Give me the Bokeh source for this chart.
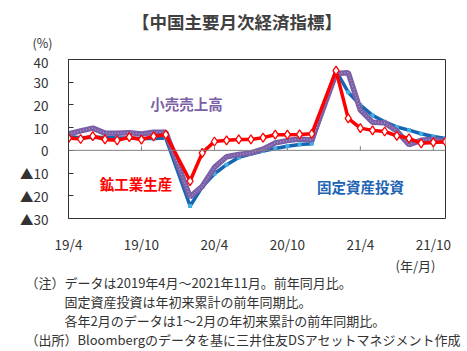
from bokeh.plotting import figure
from bokeh.layouts import column
from bokeh.models import Label, Span, FixedTicker, Range1d, Title
from bokeh.embed import file_html
from bokeh.resources import INLINE

# ---- data ----
months = ["2019-04", "2019-05", "2019-06", "2019-07", "2019-08", "2019-09", "2019-10", "2019-11", "2019-12",
          "2020-02", "2020-03", "2020-04", "2020-05", "2020-06", "2020-07", "2020-08", "2020-09", "2020-10",
          "2020-11", "2020-12",
          "2021-02", "2021-03", "2021-04", "2021-05", "2021-06", "2021-07", "2021-08", "2021-09", "2021-10",
          "2021-11"]
industrial = [5.4, 5.0, 6.3, 4.8, 4.4, 5.8, 4.7, 6.2, 6.9,
              -13.5, -1.1, 3.9, 4.4, 4.8, 4.8, 5.6, 6.9, 6.9, 7.0, 7.3,
              35.1, 14.1, 9.8, 8.8, 8.3, 6.4, 5.3, 3.1, 3.5, 3.8]
retail = [7.2, 8.6, 9.8, 7.6, 7.5, 7.8, 7.2, 8.0, 8.0,
          -20.5, -15.8, -7.5, -2.8, -1.8, -1.1, 0.5, 3.3, 4.3, 5.0, 4.6,
          33.8, 34.2, 17.7, 12.4, 12.1, 8.5, 2.5, 4.4, 4.9, 3.9]
fixed_inv = [6.1, 5.6, 5.8, 5.7, 5.5, 5.4, 5.2, 5.2, 5.4,
             -24.5, -16.1, -10.3, -6.3, -3.1, -1.6, -0.3, 0.8, 1.8, 2.6, 2.9,
             35.0, 25.6, 19.9, 15.4, 12.6, 10.3, 8.9, 7.3, 6.1, 5.2]
tick_months = ["2019-04", "2019-10", "2020-04", "2020-10", "2021-04", "2021-10"]
tick_labels = ["19/4", "19/10", "20/4", "20/10", "21/4", "21/10"]
y_ticks = [40, 30, 20, 10, 0, -10, -20, -30]
y_tick_labels = ["40", "30", "20", "10", "0", "▲10", "▲20", "▲30"]
first_month = "2019-04"
last_month = "2021-11"

title_text = "【中国主要月次経済指標】"
unit_text = "(%)"
notes = ("（注）データは2019年4月～2021年11月。前年同月比。\n"
         "　　　固定資産投資は年初来累計の前年同期比。\n"
         "　　　各年2月のデータは1～2月の年初来累計の前年同期比。\n"
         "（出所）Bloombergのデータを基に三井住友DSアセットマネジメント作成")


def midx(s):
    y, m = s.split("-")
    y0, m0 = first_month.split("-")
    return (int(y) - int(y0)) * 12 + int(m) - int(m0)


xs = [midx(m) for m in months]
tick_x = [midx(m) for m in tick_months]

FONT = "Noto Sans CJK JP"
TXT = "#333333"
W = 467
HEAD_H = 51
LEFT, RIGHT = 68, 22
HEAD_FRAME = 31

# ---- header strip (title in frame, unit as a below title) ----
head = figure(width=W, height=HEAD_H, output_backend="svg", toolbar_location=None,
              x_axis_type=None, y_axis_type=None,
              x_range=Range1d(LEFT, W - RIGHT), y_range=Range1d(0, HEAD_FRAME),
              min_border_left=LEFT, min_border_right=RIGHT, min_border_top=0, min_border_bottom=0)
head.grid.visible = False
head.outline_line_color = None
head.border_fill_color = "white"
head.title.text = ""
head.add_layout(Label(x=236.5, y=HEAD_FRAME - 21.5, text=title_text, text_font=FONT,
                      text_font_size="17.5px", text_font_style="bold", text_color="#404040",
                      text_align="center", text_baseline="middle"))
head.add_layout(Title(text=unit_text, align="left", offset=32 - LEFT, text_font=FONT,
                      text_font_size="12.5px", text_font_style="normal", text_color=TXT,
                      standoff=0), "below")

# ---- main chart ----
p = figure(width=W, height=351 - HEAD_H, output_backend="svg", toolbar_location=None,
           x_range=Range1d(midx(first_month), midx(last_month)),
           y_range=Range1d(min(y_ticks), max(y_ticks)),
           min_border_left=LEFT, min_border_right=RIGHT, min_border_top=59 - HEAD_H, min_border_bottom=133)
p.grid.visible = False
p.outline_line_color = "#333333"
p.outline_line_width = 1
p.background_fill_color = "white"
p.border_fill_color = "white"

# axes
p.xaxis.ticker = FixedTicker(ticks=tick_x)
p.xaxis.major_label_overrides = {t: l for t, l in zip(tick_x, tick_labels)}
p.xaxis.axis_line_color = None
p.xaxis.major_tick_line_color = None
p.xaxis.major_tick_out = 0
p.xaxis.major_tick_in = 0
p.xaxis.minor_tick_line_color = None
p.xaxis.major_label_standoff = 15
p.xaxis.major_label_text_font = FONT
p.xaxis.major_label_text_font_size = "13.5px"
p.xaxis.major_label_text_color = TXT

p.yaxis.ticker = FixedTicker(ticks=y_ticks)
p.yaxis.major_label_overrides = {t: l for t, l in zip(y_ticks, y_tick_labels)}
p.yaxis.axis_line_color = "#333333"
p.yaxis.major_tick_in = 5
p.yaxis.major_tick_out = 0
p.yaxis.major_tick_line_color = "#333333"
p.yaxis.minor_tick_line_color = None
p.yaxis.major_label_standoff = 20
p.yaxis.major_label_text_font = FONT
p.yaxis.major_label_text_font_size = "13.5px"
p.yaxis.major_label_text_color = TXT

p.add_layout(Title(text="(年/月)", align="right", offset=10, text_font=FONT, text_font_size="13px",
                   text_font_style="normal", text_color=TXT, standoff=-6), "below")
p.add_layout(Title(text=notes, align="left", offset=-43, text_font=FONT, text_font_size="13px",
                   text_font_style="normal", text_color=TXT, text_line_height=1.0, standoff=-2), "below")

# zero line and ticks on it
p.add_layout(Span(location=0, dimension="width", line_color="#808080", line_width=1))
p.segment(x0=tick_x, y0=[0] * len(tick_x), x1=tick_x, y1=[1.8] * len(tick_x),
          line_color="#808080", line_width=1)

# series
BLUE = "#1565b5"
p.line(xs, fixed_inv, line_color=BLUE, line_width=3.5)
p.scatter(xs, fixed_inv, marker="square", size=4, fill_color="#45aee0", line_color=None)

PURPLE = "#7b5fa6"
p.line(xs, retail, line_color=PURPLE, line_width=5.5)
p.line(xs, retail, line_color="#a693d0", line_width=1.5, line_dash="1 2")

RED = "#ff0000"
p.line(xs, industrial, line_color=RED, line_width=3.5)
p.scatter(xs, industrial, marker="diamond", size=9, fill_color="white", line_color=RED, line_width=1.3)


def lab(text, x, y, size, color):
    p.add_layout(Label(x=x, y=y, x_units="screen", y_units="screen", text=text,
                       text_font=FONT, text_font_size=size, text_color=color,
                       text_font_style="bold", text_align="center", text_baseline="middle"))


lab("小売売上高", 118, 115, "14.5px", PURPLE)
lab("鉱工業生産", 67.5, 35, "14.5px", RED)
lab("固定資産投資", 292, 32, "14.5px", "#1e64b4")

layout = column(head, p, spacing=0)
open("out.html", "w").write(file_html(layout, INLINE))
